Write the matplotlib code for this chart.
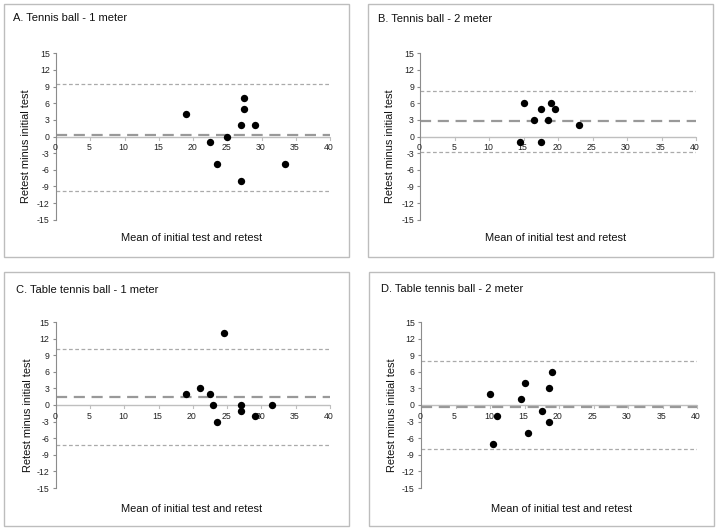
import matplotlib
matplotlib.use("Agg")
import matplotlib.pyplot as plt
from matplotlib.patches import Rectangle

plt.rcParams['font.family'] = ['Liberation Sans', 'DejaVu Sans']

W, H = 719, 530

titles = ["A. Tennis ball - 1 meter", "B. Tennis ball - 2 meter",
          "C. Table tennis ball - 1 meter", "D. Table tennis ball - 2 meter"]

a_x = [19, 22.5, 23.5, 25, 27, 27, 27.5, 27.5, 29, 33.5]
a_y = [4, -1, -5, 0, 2, -8, 7, 5, 2, -5]
a_lines = [0.2, 9.5, -9.9]

b_x = [14.5, 15, 16.5, 17.5, 17.5, 18.5, 19, 19.5, 23]
b_y = [-1, 6, 3, 5, -1, 3, 6, 5, 2]
b_lines = [2.75, 8.25, -2.8]

c_x = [19, 21, 22.5, 23, 23.5, 24.5, 27, 27, 29, 31.5]
c_y = [2, 3, 2, 0, -3, 13, 0, -1, -2, 0]
c_lines = [1.5, 10.2, -7.3]

d_x = [10, 10.5, 11, 14.5, 15, 15.5, 17.5, 18.5, 18.5, 19]
d_y = [2, -7, -2, 1, 4, -5, -1, 3, -3, 6]
d_lines = [-0.3, 7.9, -8.0]

x_ticks = [0, 5, 10, 15, 20, 25, 30, 35, 40]
y_ticks = [-15, -12, -9, -6, -3, 0, 3, 6, 9, 12, 15]
x_label = "Mean of initial test and retest"
y_label = "Retest minus initial test"

data = [(a_x, a_y, a_lines), (b_x, b_y, b_lines), (c_x, c_y, c_lines), (d_x, d_y, d_lines)]

# layout in pixels
axes_px = [(56, 53.3, 330, 219.7), (420.3, 53.3, 696, 219.7),
           (55.7, 322, 330, 488), (421, 322, 697, 488)]
frames_px = [(4, 4, 349, 257), (368, 4, 713, 257), (4, 272, 349, 526), (369, 272, 714, 526)]
title_px = [(13, 18), (378, 19), (16, 290), (381, 289)]
ylab_px = [(26, 146), (390, 146), (28, 415), (392, 415)]
xlab_px = [(192, 238), (556, 238), (192, 509), (562, 509)]

fig = plt.figure(figsize=(W / 100, H / 100), dpi=100)
fig.patch.set_facecolor('white')

def fx(x):
    return x / W

def fy(y):
    return 1 - y / H

TICK_FS = 6.3

for i in range(4):
    x0, y0, x1, y1 = frames_px[i]
    fig.patches.append(Rectangle((fx(x0), fy(y1)), fx(x1 - x0), (y1 - y0) / H,
                                 transform=fig.transFigure, fill=False,
                                 edgecolor='#bdbdbd', linewidth=1.0))
    l, t, r, b = axes_px[i]
    ax = fig.add_axes([fx(l), fy(b), fx(r - l), (b - t) / H])
    xs, ys, lines = data[i]
    ax.set_xlim(0, 40)
    ax.set_ylim(-15, 15)
    for s in ['top', 'right', 'bottom']:
        ax.spines[s].set_visible(False)
    ax.spines['left'].set_color('#8c8c8c')
    ax.spines['left'].set_linewidth(0.8)
    ax.set_yticks(y_ticks)
    ax.set_yticklabels([str(v) for v in y_ticks])
    ax.tick_params(axis='y', direction='out', length=2.5, width=0.8, color='#8c8c8c',
                   labelsize=TICK_FS, pad=2, labelcolor='#222222')
    ax.set_xticks(x_ticks)
    ax.tick_params(axis='x', length=0, labelbottom=False)
    # x axis line at y=0 with small ticks
    ax.axhline(0, color='#bfbfbf', linewidth=1.0, zorder=1)
    for xv in x_ticks:
        ax.plot([xv, xv], [0, -0.55], color='#bfbfbf', linewidth=0.8, zorder=1, clip_on=False)
        ax.text(xv - 0.15, -2.0, str(xv), ha='center', va='center', fontsize=TICK_FS,
                color='#222222')
    # lines
    mean, up, lo = lines
    ax.axhline(mean, color='#999999', linewidth=1.6, dashes=(5, 3), zorder=2)
    ax.axhline(up, color='#aaaaaa', linewidth=0.9, dashes=(3, 2), zorder=2)
    ax.axhline(lo, color='#aaaaaa', linewidth=0.9, dashes=(3, 2), zorder=2)
    ax.scatter(xs, ys, s=28, color='black', zorder=3, linewidths=0)
    ax.patch.set_alpha(0)

    tx, ty = title_px[i]
    fig.text(fx(tx), fy(ty), titles[i], ha='left', va='center', fontsize=8, color='#111111')
    lx, ly = ylab_px[i]
    fig.text(fx(lx), fy(ly), y_label, ha='center', va='center', rotation=90, fontsize=7.9,
             color='#111111')
    mx, my = xlab_px[i]
    fig.text(fx(mx), fy(my), x_label, ha='center', va='center', fontsize=7.9, color='#111111')

fig.savefig('out.png', dpi=100)
